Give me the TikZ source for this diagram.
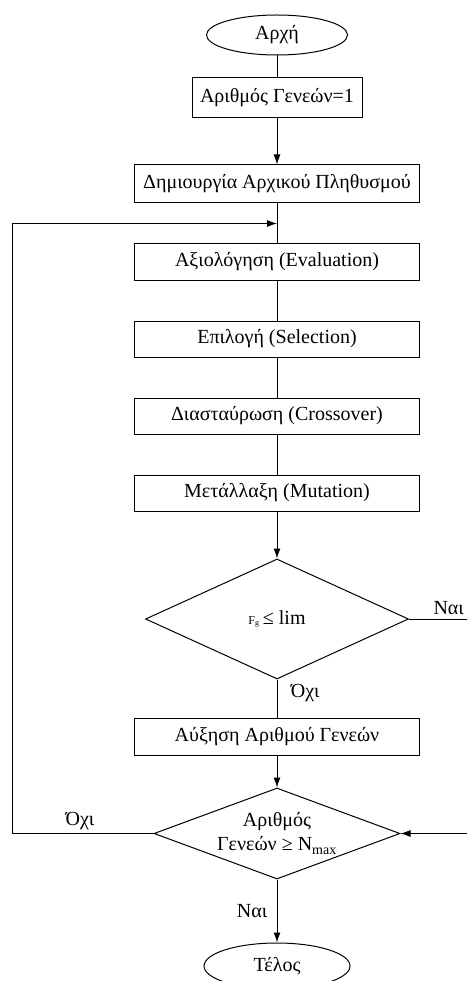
\documentclass[tikz,border=0pt]{standalone}
\usepackage{fontspec}
\setmainfont{Liberation Serif}
\usetikzlibrary{positioning}
\usetikzlibrary{calc}
\usetikzlibrary{shapes.geometric}
\usetikzlibrary{arrows.meta}

\tikzset{
  block/.style={draw, rectangle, minimum width=285pt, minimum height=36pt, inner sep=2pt},
  term/.style={draw, ellipse, minimum width=141pt, minimum height=40pt, inner sep=0pt},
  decision/.style={draw, diamond, inner sep=0pt},
  arr/.style={-{Latex[length=10pt,width=7pt]}},
}

\begin{document}
\begin{tikzpicture}[line width=1pt, font=\fontsize{20}{24}\selectfont, node distance=40pt]
\useasboundingbox (0,0) rectangle (467pt,-981pt);
\clip (0,0) rectangle (467pt,-981pt);

\node (start) [term] at (277pt,-35pt) {Αρχή};
\node (gen)   [block, below=22pt of start, minimum width=170pt, minimum height=40pt] {Αριθμός Γενεών=1};
\node (init)  [block, below=46pt of gen, minimum height=38pt] {Δημιουργία Αρχικού Πληθυσμού};
\node (eval)  [block, below=of init] {Αξιολόγηση (Evaluation)};
\node (sel)   [block, below=of eval] {Επιλογή (Selection)};
\node (cross) [block, below=of sel] {Διασταύρωση (Crossover)};
\node (mut)   [block, below=of cross] {Μετάλλαξη (Mutation)};
\node (cond)  [decision, below=47pt of mut, minimum width=263pt, minimum height=120pt] {{\fontsize{12}{14}\selectfont F\textsubscript{g}}\,≤ lim};
\node (inc)   [block, below=38pt of cond, minimum height=37pt] {Αύξηση Αριθμού Γενεών};
\node (check) [decision, below=32pt of inc, minimum width=246pt, minimum height=91pt] {};
\node (checktxt) [align=center] at (check) {Αριθμός\\Γενεών ≥ N\textsubscript{max}};
\node (stop)  [term, below=63pt of check, minimum width=146pt, minimum height=46pt] {Τέλος};

\coordinate (join) at ($(init.south)!0.5!(eval.north)$);
\coordinate (edgeL) at (12pt,0);
\coordinate (edgeR) at (470pt,0);

\draw (start) -- (gen);
\draw[arr] (gen) -- (init);
\draw (init) -- (eval);
\draw (eval) -- (sel);
\draw (sel) -- (cross);
\draw (cross) -- (mut);
\draw[arr] (mut) -- (cond);
\draw (cond) -- node[pos=0.35, right=10pt] {Όχι} (inc);
\draw[arr] (inc) -- (check);
\draw[arr] (check) -- node[left=6pt] {Ναι} (stop);
\draw (cond.east) -- node[above, pos=0.65] {Ναι} (cond.east -| edgeR);
\draw[arr] (cond.east -| edgeR) |- (check.east);
\draw[arr] (check.west) -- node[above, pos=0.52] {Όχι} (check.west -| edgeL) |- (join);
\end{tikzpicture}
\end{document}
